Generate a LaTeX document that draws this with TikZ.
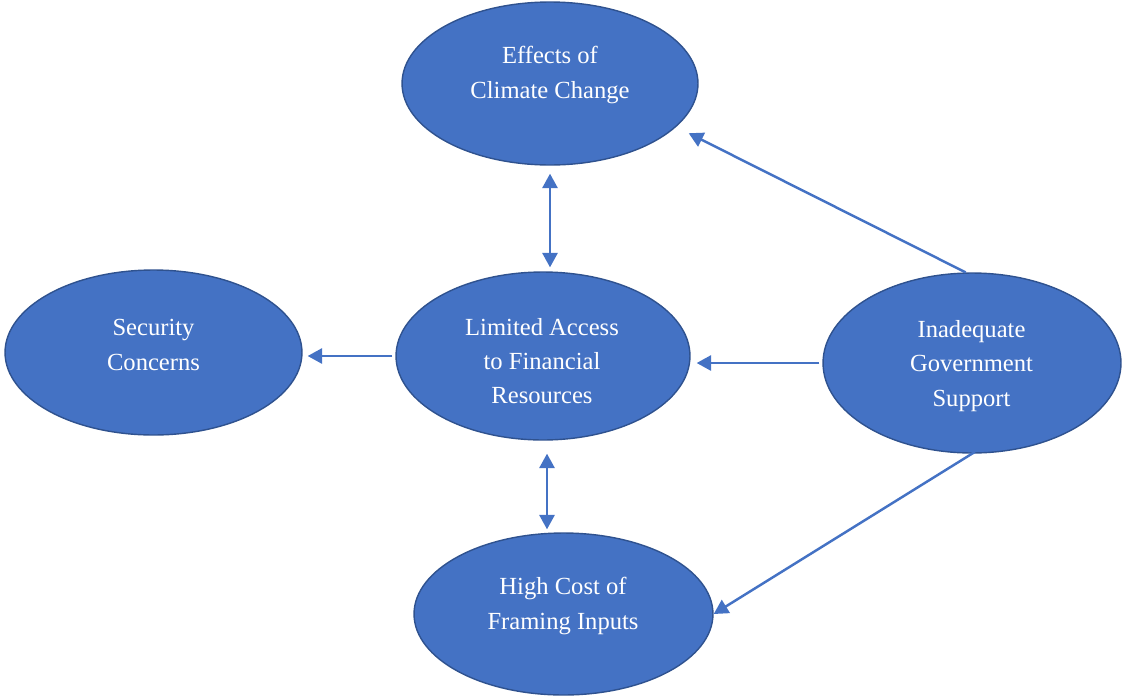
\documentclass[tikz,border=0pt]{standalone}
\usepackage{fontspec}
\setmainfont{Liberation Serif}
\usetikzlibrary{shapes.geometric,arrows.meta}

\definecolor{bubble}{HTML}{4472C4}
\definecolor{bubbleedge}{HTML}{2F528F}
\definecolor{linkblue}{HTML}{4472C4}

\tikzset{
  bubble/.style={ellipse, fill=bubble, draw=bubbleedge, line width=0.8pt, inner sep=0pt},
  caption/.style={text=white, align=center, inner sep=0pt,
    font=\fontsize{14}{19.4}\selectfont},
  tipshape/.style={},
  link/.style={draw=linkblue, line width=1.4pt,
    -{Triangle[length=8.2pt,width=8.6pt]}},
  duallink/.style={link, {Triangle[length=8.2pt,width=8.6pt]}-{Triangle[length=8.2pt,width=8.6pt]}}
}

\begin{document}
\begin{tikzpicture}[x=0.02cm, y=-0.02cm]
  \useasboundingbox (0,0) rectangle (1122,697);

  % ellipses
  \node[bubble, minimum width=5.92cm, minimum height=3.26cm] (eff)  at (550,83.5) {};
  \node[bubble, minimum width=5.94cm, minimum height=3.30cm] (sec)  at (153.5,352.5) {};
  \node[bubble, minimum width=5.88cm, minimum height=3.36cm] (lim)  at (543,356) {};
  \node[bubble, minimum width=5.96cm, minimum height=3.60cm] (inad) at (972,363) {};
  \node[bubble, minimum width=5.98cm, minimum height=3.24cm] (high) at (563.5,614) {};

  % captions
  \node[caption] (effT)  at (550,75)   {Effects of\\Climate Change};
  \node[caption] (secT)  at (153.5,345) {Security\\Concerns};
  \node[caption] (limT)  at (542,361)  {Limited Access\\to Financial\\Resources};
  \node[caption] (inadT) at (971.5,366) {Inadequate\\Government\\Support};
  \node[caption] (highT) at (563,606)  {High Cost of\\Framing Inputs};

  % connectors
  \draw[duallink, shorten <=0.16cm, shorten >=0.08cm]
    (eff.south) -- (lim.north -| eff.south);
  \draw[duallink, shorten <=0.26cm, shorten >=0.06cm]
    ([xshift=0.08cm]lim.south) -- ([xshift=0.08cm]lim.south |- high.north);
  \draw[link, shorten <=0.06cm, shorten >=0.1cm]
    (lim.west) -- (sec.east |- lim.west);
  \draw[link, shorten <=0.06cm, shorten >=0.12cm]
    (inad.west) -- (lim.east |- inad.west);
  \draw[link, shorten >=0.28cm]
    (inad.94) -- (eff.-19);
  \draw[link, shorten <=-0.06cm]
    (inad.south) -- (high.east);
\end{tikzpicture}
\end{document}
